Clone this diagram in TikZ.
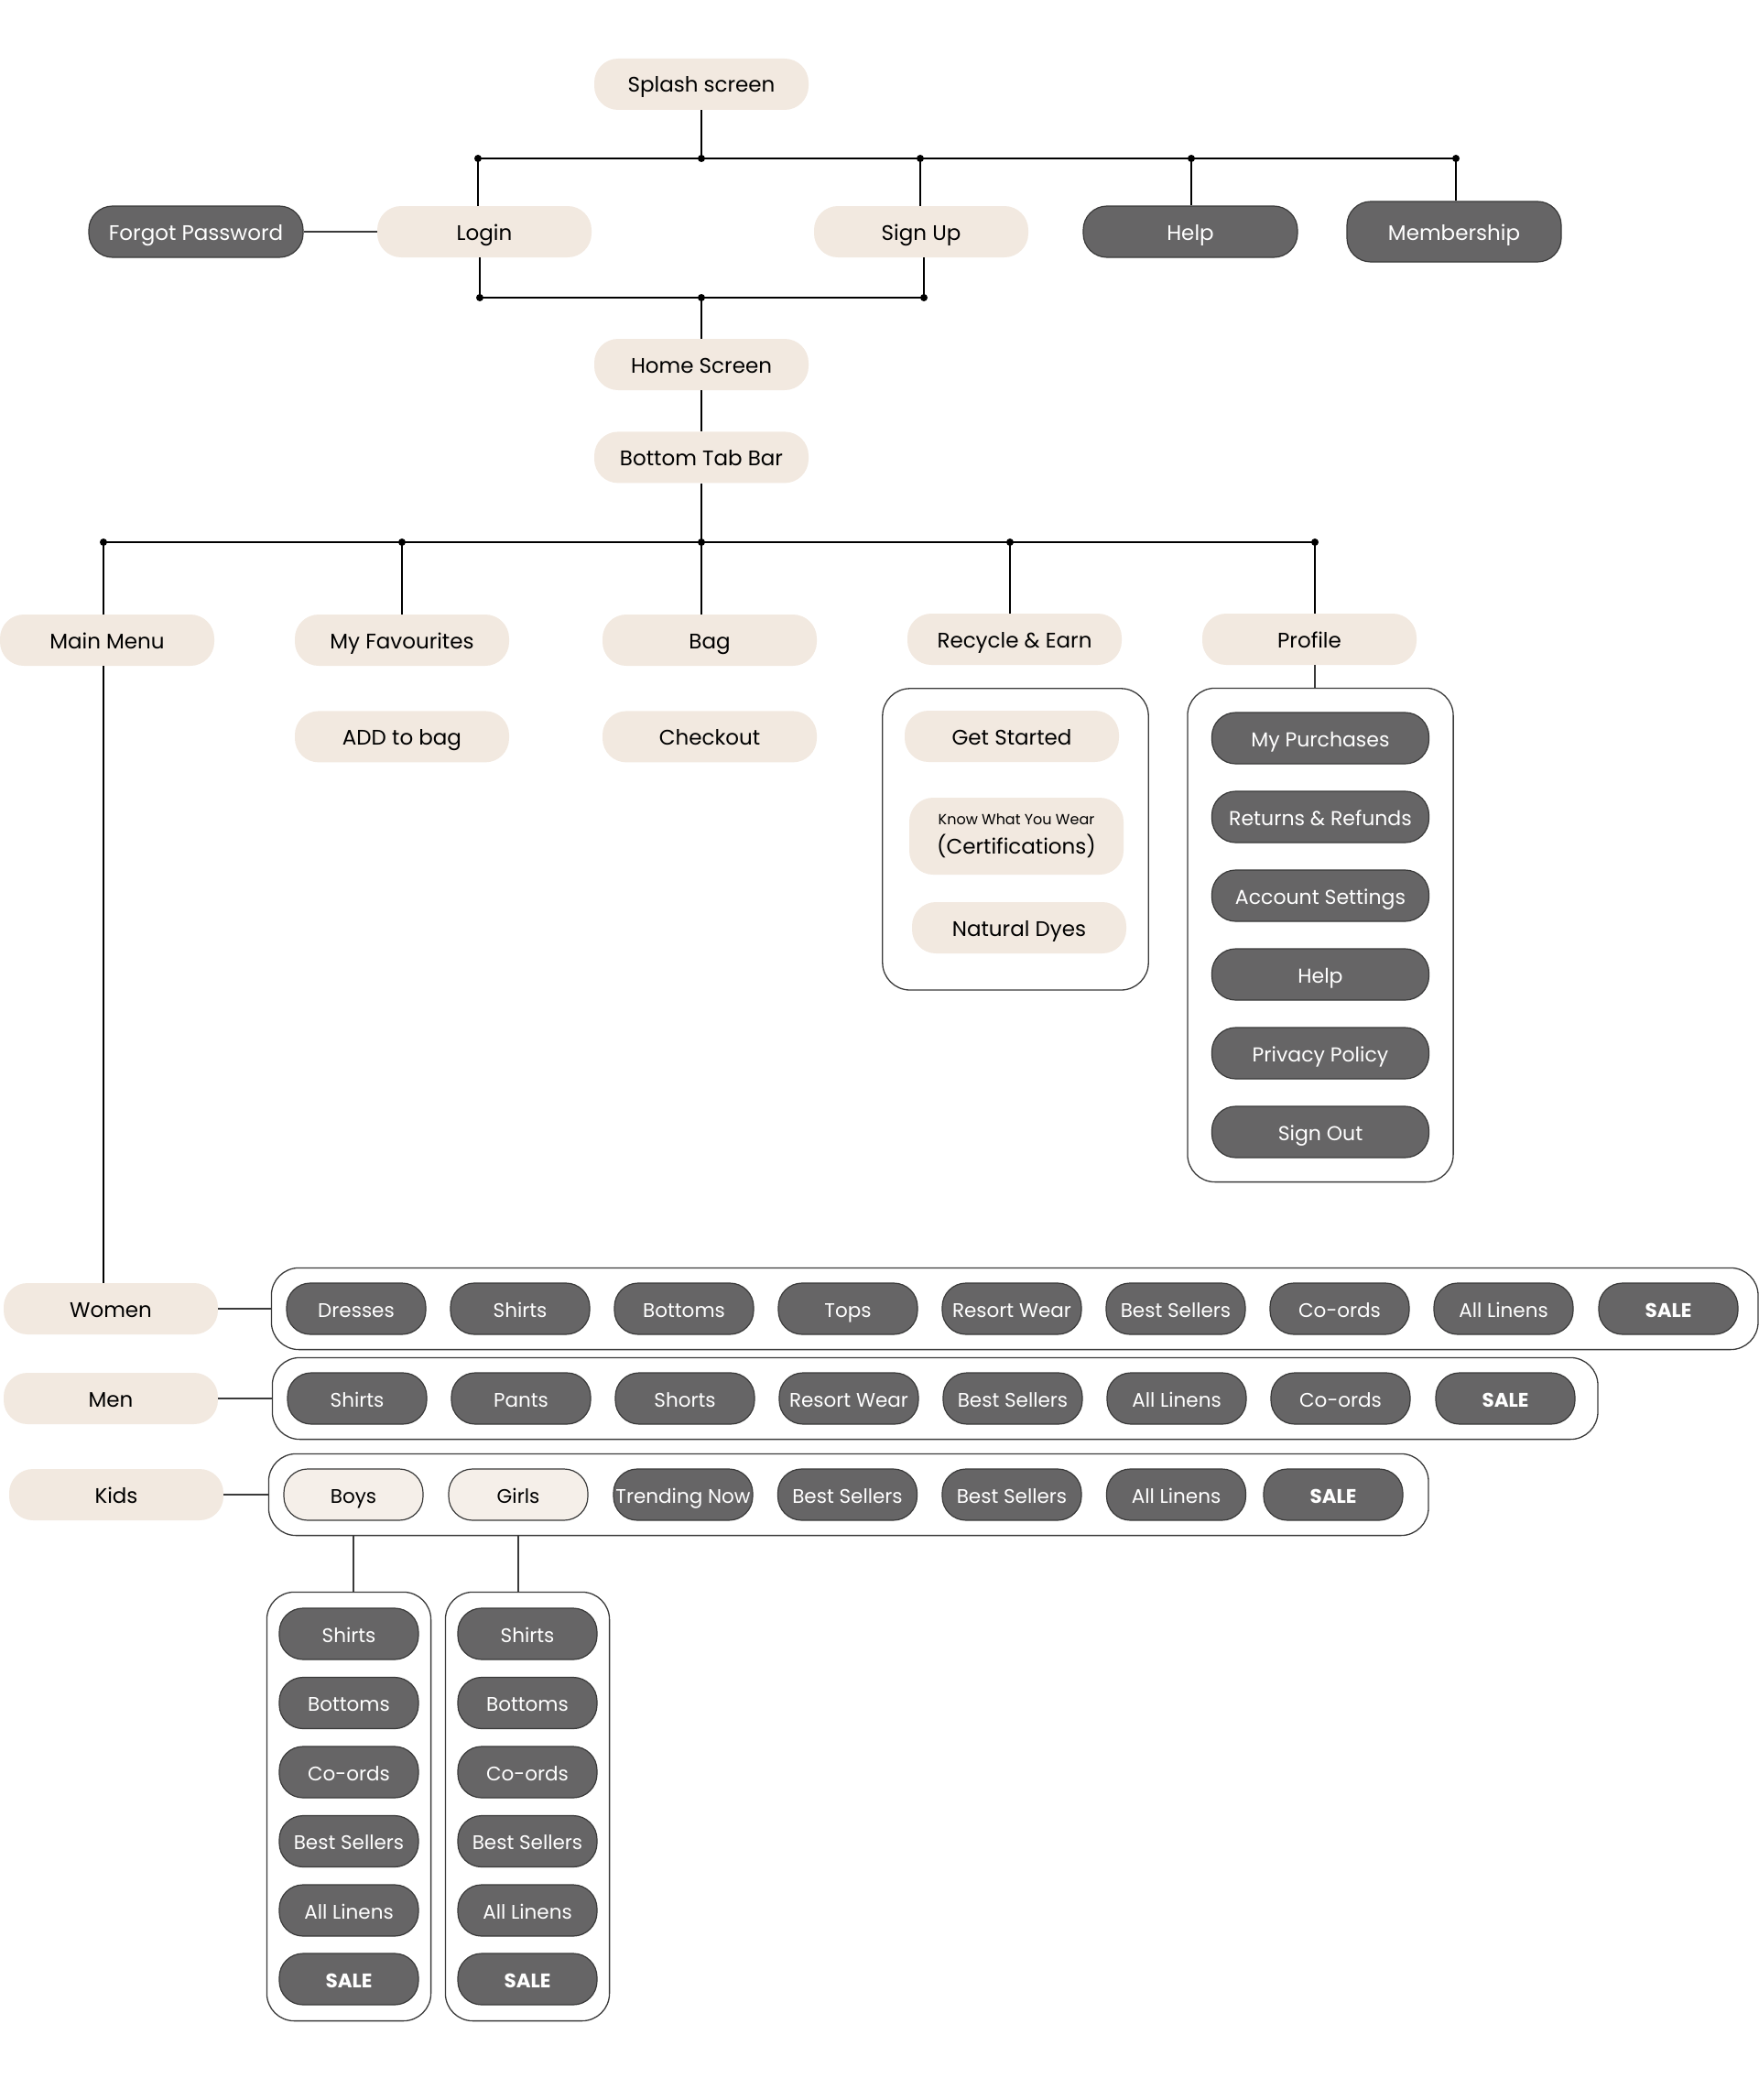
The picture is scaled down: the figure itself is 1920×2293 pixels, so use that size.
\documentclass[tikz,border=0pt]{standalone}
\usepackage{fontspec}
\setmainfont{Poppins}
\usetikzlibrary{positioning, fit, calc}
\definecolor{beige}{HTML}{F2E9E0}
\definecolor{beigelt}{HTML}{F5EFE9}
\definecolor{slate}{HTML}{666566}
\definecolor{edge}{HTML}{3A3A3A}

\begin{document}
\begin{tikzpicture}[
  x=1pt, y=-1pt,
  node distance=49pt and 30pt,
  base/.style={rounded corners=26pt, minimum width=234pt, minimum height=56pt, inner sep=2pt, text height=20pt, text depth=2pt, font=\fontsize{23}{27}\selectfont, align=center},
  lite/.style={base, fill=beige},
  dark/.style={base, fill=slate, draw=edge, line width=1.2pt, text=white},
  item/.style={dark, minimum width=152pt, font=\fontsize{21.5}{25}\selectfont},
  sale/.style={item, font=\fontsize{21.5}{25}\selectfont\bfseries},
  kid/.style={item, fill=beigelt, text=black},
  grp/.style={draw=edge, line width=1.3pt, rounded corners=30pt, inner sep=16pt},
  bus/.style={line width=2.6pt},
  drop/.style={line width=1.6pt},
  dot/.style={circle, fill, inner sep=0pt, minimum size=8pt}
]
\useasboundingbox (0,0) rectangle (1920,2293);

% entry
\node[lite] (splash) at (766,92) {Splash screen};
\node[dark] (forgot) at (214,253) {Forgot Password};
\node[lite] (login) at (529,253) {Login};
\node[lite] (signup) at (1006,253) {Sign Up};
\node[dark] (help) at (1300,253) {Help};
\node[dark, minimum height=66pt] (member) at (1588,253) {Membership};
\node[lite] (home) at (766,398) {Home Screen};
\node[lite, below=45pt of home] (tab) {Bottom Tab Bar};

% tabs
\node[lite] (main) at (117,699) {Main Menu};
\node[lite] (fav) at (439,699) {My Favourites};
\node[lite] (bag) at (775,699) {Bag};
\node[lite] (recycle) at (1108,698) {Recycle \& Earn};
\node[lite] (profile) at (1430,698) {Profile};
\node[lite, below=of fav] (addbag) {ADD to bag};
\node[lite, below=of bag] (checkout) {Checkout};

% recycle
\node[lite] (gs) at (1105,804) {Get Started};
\node[lite, minimum height=84pt, text height=, text depth=] (kw) at (1110,913) {{\fontsize{16}{20}\selectfont Know What You Wear}\\[5pt](Certifications)};
\node[lite] (nd) at (1113,1013) {Natural Dyes};
\coordinate (recpad) at (1113,1057);
\node[grp, inner sep=24pt, fit=(gs)(kw)(nd)(recpad)] (recgrp) {};

% profile
\foreach \t [count=\i] in {My Purchases, Returns \& Refunds, Account Settings, Help, Privacy Policy, Sign Out}
  \node[dark, minimum width=237pt, font=\fontsize{22}{26}\selectfont] (pf\i) at (1442,{806+86*(\i-1)}) {\t};
\node[grp, inner sep=26pt, fit=(pf1)(pf6)] (profgrp) {};

% main menu
\node[lite] (women) at (121,1429) {Women};
\node[lite] (men) at (121,1527) {Men};
\node[lite] (kids) at (127,1632) {Kids};

\foreach \t [count=\i] in {Dresses, Shirts, Bottoms, Tops, Resort Wear, Best Sellers, Co-ords, All Linens}
  \node[item] (w\i) at ({389+179*(\i-1)},1429) {\t};
\node[sale] (w9) at (1822,1429) {SALE};
\coordinate (wpad) at (1904,1429);
\node[grp, fit=(w1)(w9)(wpad)] (womengrp) {};

\foreach \t [count=\i] in {Shirts, Pants, Shorts, Resort Wear, Best Sellers, All Linens, Co-ords}
  \node[item] (m\i) at ({390+179*(\i-1)},1527) {\t};
\node[sale] (m8) at (1644,1527) {SALE};
\coordinate (mpad) at (1729,1527);
\node[grp, fit=(m1)(m8)(mpad)] (mengrp) {};

\node[kid] (k1) at (386,1632) {Boys};
\node[kid] (k2) at (566,1632) {Girls};
\foreach \t [count=\i from 3] in {Trending Now, Best Sellers, Best Sellers, All Linens}
  \node[item] (k\i) at ({746+179.5*(\i-3)},1632) {\t};
\node[sale] (k7) at (1456,1632) {SALE};
\coordinate (kpad) at (1544,1632);
\node[grp, fit=(k1)(k7)(kpad)] (kidsgrp) {};

% boys / girls
\foreach \t [count=\i] in {Shirts, Bottoms, Co-ords, Best Sellers, All Linens} {
  \node[item] (b\i) at (381,{1784+75.5*(\i-1)}) {\t};
  \node[item] (g\i) at (576,{1784+75.5*(\i-1)}) {\t};
}
\node[sale] (b6) at (381,2161) {SALE};
\node[sale] (g6) at (576,2161) {SALE};
\node[grp, inner xsep=13pt, inner ysep=17pt, fit=(b1)(b6)] (boysgrp) {};
\node[grp, inner xsep=13pt, inner ysep=17pt, fit=(g1)(g6)] (girlsgrp) {};

% junctions
\coordinate (sj0) at (766,173);
\coordinate (sj1) at (522,173);
\coordinate (sj2) at (1005,173);
\coordinate (sj3) at (1301,173);
\coordinate (sj4) at (1590,173);
\coordinate (lj0) at (766,325);
\coordinate (lj1) at (524,325);
\coordinate (lj2) at (1009,325);
\coordinate (tj0) at (766,592);
\coordinate (tj1) at (113,592);
\coordinate (tj2) at (439,592);
\coordinate (tj3) at (1103,592);
\coordinate (tj4) at (1436,592);

% links
\draw[drop] (splash) -- (sj0);
\draw[bus] (sj1) -- (sj4);
\foreach \j/\n in {sj1/login, sj2/signup, sj3/help, sj4/member}
  \draw[drop] (\j) -- (\j |- \n.north);
\draw[drop] (lj1 |- login.south) -- (lj1);
\draw[drop] (lj2 |- signup.south) -- (lj2);
\draw[bus] (lj1) -- (lj2);
\draw[drop] (lj0) -- (home);
\draw[drop, edge] (forgot) -- (login);
\draw[drop] (home) -- (tab);
\draw[drop] (tab) -- (tj0);
\draw[bus] (tj1) -- (tj4);
\foreach \j/\n in {tj0/bag, tj2/fav, tj3/recycle, tj4/profile}
  \draw[drop] (\j) -- (\j |- \n.north);
\draw[drop] (tj1) -- (tj1 |- main.north);
\draw[drop] (tj1 |- main.south) -- (tj1 |- women.north);
\draw[drop, edge] (profile.south -| tj4) -- (tj4 |- profgrp.north);
\draw[drop, edge] (women) -- (women -| womengrp.west);
\draw[drop, edge] (men) -- (men -| mengrp.west);
\draw[drop, edge] (kids) -- (kids -| kidsgrp.west);
\draw[drop, edge] (k1 |- kidsgrp.south) -- (k1 |- boysgrp.north);
\draw[drop, edge] (k2 |- kidsgrp.south) -- (k2 |- girlsgrp.north);

\foreach \j in {sj0, sj1, sj2, sj3, sj4, lj0, lj1, lj2, tj0, tj1, tj2, tj3, tj4}
  \node[dot] at (\j) {};
\end{tikzpicture}
\end{document}
